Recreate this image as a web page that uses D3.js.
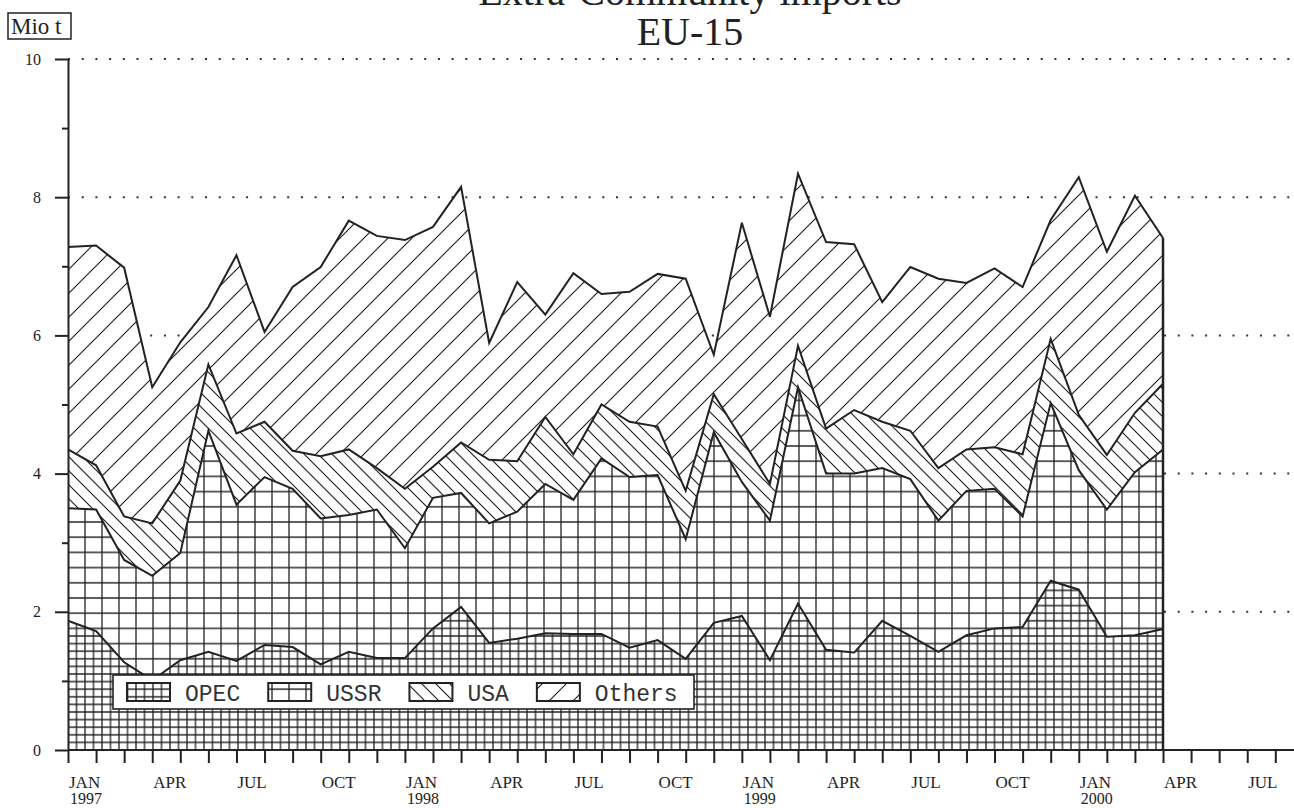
<!DOCTYPE html>
<html>
<head>
<meta charset="utf-8">
<title>Extra-Community imports EU-15</title>
<script src="https://cdn.jsdelivr.net/npm/d3@7"></script>
<style>
  body { margin: 0; background: #fff; }
  svg { display: block; }
  .serif { font-family: "Liberation Serif", "Times New Roman", serif; fill: #222; }
  .mono { font-family: "Liberation Mono", "Courier New", monospace; fill: #333; }
</style>
</head>
<body>
<svg id="chart" width="1294" height="808"></svg>
<script>
// monthly imports, Mio t
const months = [
  "1997-01","1997-02","1997-03","1997-04","1997-05","1997-06","1997-07","1997-08","1997-09","1997-10","1997-11","1997-12",
  "1998-01","1998-02","1998-03","1998-04","1998-05","1998-06","1998-07","1998-08","1998-09","1998-10","1998-11","1998-12",
  "1999-01","1999-02","1999-03","1999-04","1999-05","1999-06","1999-07","1999-08","1999-09","1999-10","1999-11","1999-12",
  "2000-01","2000-02","2000-03","2000-04"
];
const opec = [1.87,1.72,1.27,1.01,1.30,1.42,1.29,1.52,1.49,1.24,1.42,1.33,
              1.33,1.76,2.07,1.55,1.61,1.69,1.68,1.68,1.48,1.59,1.32,1.84,
              1.94,1.30,2.12,1.45,1.41,1.87,1.65,1.42,1.66,1.76,1.78,2.45,
              2.32,1.64,1.66,1.75];
const ussr = [1.63,1.76,1.48,1.51,1.55,3.20,2.26,2.43,2.29,2.11,1.98,2.15,
              1.59,1.89,1.65,1.73,1.84,2.16,1.94,2.54,2.47,2.39,1.73,2.76,
              1.94,2.02,3.13,2.55,2.59,2.21,2.27,1.90,2.09,2.02,1.60,2.57,
              1.73,1.84,2.36,2.60];
const usa = [0.85,0.64,0.63,0.76,1.05,0.96,1.03,0.80,0.55,0.90,0.95,0.60,
             0.86,0.45,0.73,0.92,0.73,0.97,0.66,0.78,0.80,0.70,0.70,0.55,
             0.62,0.53,0.60,0.65,0.92,0.67,0.70,0.76,0.60,0.60,0.90,0.93,
             0.80,0.79,0.86,0.95];
const others = [2.93,3.18,3.60,1.97,2.00,0.83,2.58,1.30,2.37,2.74,3.31,3.36,
                3.60,3.47,3.70,1.69,2.59,1.48,2.62,1.60,1.88,2.21,3.07,0.57,
                3.13,2.42,2.49,2.70,2.40,1.73,2.37,2.74,2.41,2.59,2.42,1.72,
                3.44,2.94,3.14,2.11];

const seriesNames = ["OPEC", "USSR", "USA", "Others"];
const monthLabels = ["JAN","FEB","MAR","APR","MAY","JUN","JUL","AUG","SEP","OCT","NOV","DEC"];
const shownMonths = ["JAN","APR","JUL","OCT"];
const years = ["1997","1998","1999","2000"];
const yMajor = [0, 2, 4, 6, 8, 10];
const yMinor = [1, 3, 5, 7, 9];

const ink = "#222";
const svg = d3.select("#chart");
const W = 1294;

const x = d3.scaleLinear().domain([0, 39]).range([68, 1163]);
const y = d3.scaleLinear().domain([0, 10]).range([750, 59]);
const axisEnd = 44; // axis runs on past the data to JUL 2000

// ---- hatch patterns ----
const defs = svg.append("defs");
function gridPattern(id, w, h) {
  const p = defs.append("pattern").attr("id", id)
    .attr("patternUnits", "userSpaceOnUse")
    .attr("x", x(0)).attr("y", y(0)).attr("width", w).attr("height", h);
  p.append("rect").attr("width", w).attr("height", h).attr("fill", "#fff");
  p.append("path")
    .attr("d", `M0,0V${h}M${w},0V${h}M0,0H${w}M0,${h}H${w}`)
    .attr("stroke", ink).attr("stroke-width", 1.3);
}
function hatchPattern(id, s, dir) {
  const p = defs.append("pattern").attr("id", id)
    .attr("patternUnits", "userSpaceOnUse")
    .attr("x", x(0)).attr("y", y(0)).attr("width", s).attr("height", s);
  p.append("rect").attr("width", s).attr("height", s).attr("fill", "#fff");
  const d = dir === "/"
    ? `M-2,2L2,-2M0,${s}L${s},0M${s - 2},${s + 2}L${s + 2},${s - 2}`
    : `M-2,${s - 2}L2,${s + 2}M0,0L${s},${s}M${s - 2},-2L${s + 2},2`;
  p.append("path").attr("d", d).attr("stroke", ink).attr("stroke-width", 1.2);
}
gridPattern("pat-OPEC", 8.5, 7.6);
gridPattern("pat-USSR", 17, 15.2);
hatchPattern("pat-USA", 14, "\\");
hatchPattern("pat-Others", 24, "/");

// ---- dotted grid ----
svg.append("g").selectAll("line")
  .data(yMajor.filter(v => v > 0))
  .join("line")
  .attr("x1", x(0)).attr("x2", W)
  .attr("y1", d => y(d)).attr("y2", d => y(d))
  .attr("stroke", "#333").attr("stroke-width", 2)
  .attr("stroke-dasharray", "2,11.7");

// ---- stacked areas ----
const table = months.map((m, i) => ({
  i: i, OPEC: opec[i], USSR: ussr[i], USA: usa[i], Others: others[i]
}));
const stacked = d3.stack().keys(seriesNames)(table);

const area = d3.area()
  .x(d => x(d.data.i))
  .y0(d => y(d[0]))
  .y1(d => y(d[1]));
const topLine = d3.line()
  .x(d => x(d.data.i))
  .y(d => y(d[1]));

const layers = svg.append("g");
layers.selectAll("path.area")
  .data(stacked)
  .join("path")
  .attr("class", "area")
  .attr("d", area)
  .attr("fill", d => `url(#pat-${d.key})`);

layers.selectAll("path.edge")
  .data(stacked)
  .join("path")
  .attr("class", "edge")
  .attr("d", topLine)
  .attr("fill", "none")
  .attr("stroke", ink)
  .attr("stroke-width", 2)
  .attr("stroke-linejoin", "miter");

// closing edge at the last month
const last = months.length - 1;
layers.append("line")
  .attr("x1", x(last)).attr("x2", x(last))
  .attr("y1", y(0)).attr("y2", y(stacked[stacked.length - 1][last][1]))
  .attr("stroke", ink).attr("stroke-width", 2.5);

// ---- axes ----
const yAxisMajor = d3.axisLeft(y).tickValues(yMajor).tickSize(13).tickSizeOuter(0).tickPadding(14);
const yAxisMinor = d3.axisLeft(y).tickValues(yMinor).tickSize(6).tickFormat("");

const gy = svg.append("g").attr("transform", `translate(${x(0)},0)`).call(yAxisMajor);
gy.append("g").call(yAxisMinor).select(".domain").remove();
gy.selectAll("path, line").attr("stroke", ink).attr("stroke-width", 2);
gy.selectAll("text")
  .attr("class", "serif")
  .attr("font-size", 16)
  .attr("fill", ink);

const xAxis = d3.axisBottom(x)
  .tickValues(d3.range(0, axisEnd + 1))
  .tickSize(13).tickSizeOuter(0)
  .tickFormat("");
const gx = svg.append("g").attr("transform", `translate(0,${y(0)})`).call(xAxis);
gx.select(".domain").attr("d", `M${x(0)},0H${x(axisEnd)}`);
gx.selectAll("path, line").attr("stroke", ink).attr("stroke-width", 2);

const labelData = d3.range(0, axisEnd).filter(i => shownMonths.includes(monthLabels[i % 12]));
const xl = svg.append("g").attr("class", "serif").attr("font-size", 17);
xl.selectAll("text.mon")
  .data(labelData)
  .join("text")
  .attr("class", "mon")
  .attr("x", d => x(d) + 1)
  .attr("y", 788)
  .text(d => monthLabels[d % 12]);
xl.selectAll("text.yr")
  .data(labelData.filter(i => i % 12 === 0))
  .join("text")
  .attr("class", "yr")
  .attr("x", d => x(d) + 2)
  .attr("y", 804)
  .attr("font-size", 16)
  .text(d => years[Math.floor(d / 12)]);

// ---- title and unit ----
const title = svg.append("g").attr("class", "serif").attr("text-anchor", "middle").attr("font-size", 40);
title.append("text").attr("x", 690).attr("y", 5).text("Extra-Community imports");
title.append("text").attr("x", 690).attr("y", 45).text("EU-15");

svg.append("rect").attr("x", 8).attr("y", 13).attr("width", 63).attr("height", 26)
  .attr("fill", "#fff").attr("stroke", ink).attr("stroke-width", 1.5);
svg.append("text").attr("class", "serif").attr("x", 11).attr("y", 34)
  .attr("font-size", 23).text("Mio t");

// ---- legend ----
const legend = svg.append("g");
legend.append("rect")
  .attr("x", 113).attr("y", 675).attr("width", 581).attr("height", 34)
  .attr("fill", "#fff").attr("stroke", ink).attr("stroke-width", 1.6);
let lx = 127;
seriesNames.forEach(name => {
  legend.append("rect")
    .attr("x", lx).attr("y", 683).attr("width", 43).attr("height", 18)
    .attr("fill", `url(#pat-${name})`)
    .attr("stroke", ink).attr("stroke-width", 2);
  const t = legend.append("text")
    .attr("class", "mono")
    .attr("x", lx + 58).attr("y", 701)
    .attr("font-size", 23)
    .text(name);
  lx += 58 + t.node().getComputedTextLength() + 28;
});
</script>
</body>
</html>
